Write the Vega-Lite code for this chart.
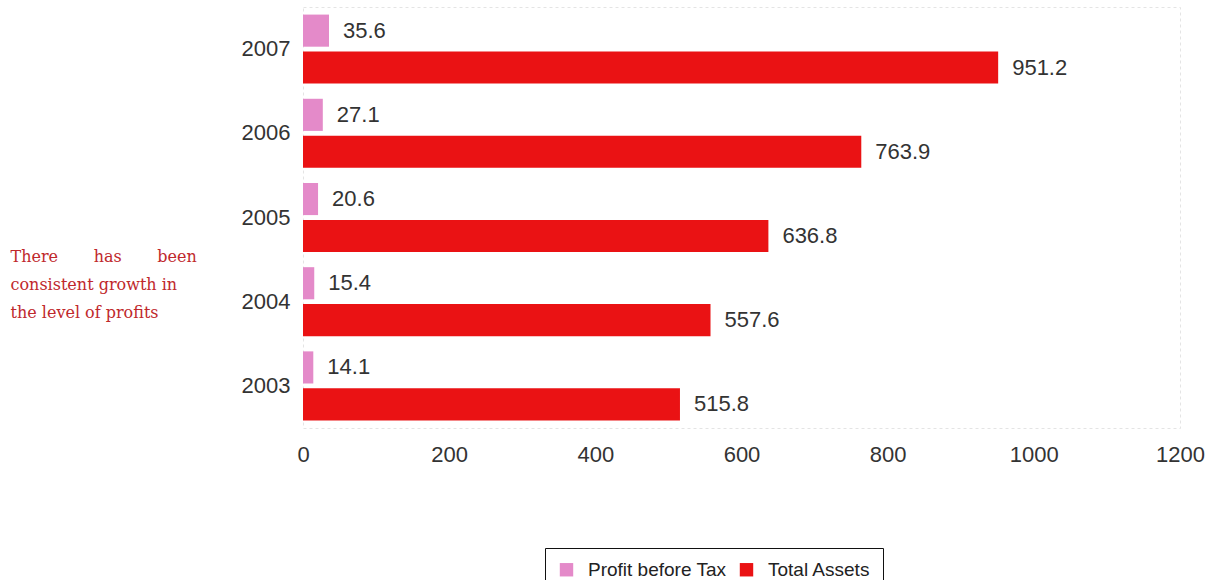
{
  "$schema": "https://vega.github.io/schema/vega-lite/v6.json",
  "autosize": "none",
  "padding": {"left": 303, "top": 7, "right": 39, "bottom": 152},
  "width": 877,
  "height": 421,
  "background": "white",
  "config": {
    "font": "Liberation Sans",
    "view": {"stroke": "#e4e4e4", "strokeDash": [3, 3]},
    "legend": {"strokeColor": "#111111", "fillColor": "white", "padding": 12}
  },
  "data": {
    "values": [
      {"year": "2007", "series": "Profit before Tax", "value": 35.6},
      {"year": "2007", "series": "Total Assets", "value": 951.2},
      {"year": "2006", "series": "Profit before Tax", "value": 27.1},
      {"year": "2006", "series": "Total Assets", "value": 763.9},
      {"year": "2005", "series": "Profit before Tax", "value": 20.6},
      {"year": "2005", "series": "Total Assets", "value": 636.8},
      {"year": "2004", "series": "Profit before Tax", "value": 15.4},
      {"year": "2004", "series": "Total Assets", "value": 557.6},
      {"year": "2003", "series": "Profit before Tax", "value": 14.1},
      {"year": "2003", "series": "Total Assets", "value": 515.8}
    ]
  },
  "encoding": {
    "y": {
      "field": "year",
      "type": "nominal",
      "sort": "descending",
      "scale": {"paddingInner": 0.18, "paddingOuter": 0.09},
      "axis": {
        "title": ["There\u00a0\u00a0\u00a0\u00a0\u00a0\u00a0\u00a0has\u00a0\u00a0\u00a0\u00a0\u00a0\u00a0\u00a0been", "consistent growth in", "the level of profits"],
        "titleFont": "DejaVu Serif",
        "titleFontSize": 16,
        "titleFontWeight": "normal",
        "titleColor": "#c0282c",
        "titleAngle": 0,
        "titleAlign": "left",
        "titleBaseline": "top",
        "titleX": -293,
        "titleY": 241,
        "titleLineHeight": 28,
        "labelFontSize": 22,
        "labelColor": "#333333",
        "labelPadding": 13,
        "ticks": false,
        "domain": false
      }
    },
    "yOffset": {
      "field": "series",
      "type": "nominal",
      "sort": ["Profit before Tax", "Total Assets"],
      "scale": {"paddingInner": 0.13}
    },
    "x": {
      "field": "value",
      "type": "quantitative",
      "scale": {"domain": [0, 1200], "nice": false},
      "axis": {
        "title": null,
        "values": [0, 200, 400, 600, 800, 1000, 1200],
        "format": "d",
        "labelFlush": false,
        "labelFontSize": 22,
        "labelColor": "#333333",
        "labelPadding": 16,
        "ticks": false,
        "domain": false,
        "grid": false
      }
    }
  },
  "layer": [
    {
      "mark": {"type": "bar"},
      "encoding": {
        "color": {
          "field": "series",
          "type": "nominal",
          "scale": {"domain": ["Profit before Tax", "Total Assets"], "range": ["#e48ac9", "#ea1214"]},
          "legend": {
            "title": null,
            "orient": "none",
            "legendX": 242,
            "legendY": 541,
            "direction": "horizontal",
            "columns": 2,
            "columnPadding": 10,
            "symbolType": "square",
            "symbolSize": 180,
            "labelFontSize": 19,
            "labelColor": "#222222",
            "labelOffset": 12
          }
        }
      }
    },
    {
      "mark": {"type": "text", "align": "left", "baseline": "middle", "dx": 14, "fontSize": 22, "color": "#333333"},
      "encoding": {
        "text": {"field": "value", "type": "quantitative", "format": ".1f"}
      }
    }
  ]
}
